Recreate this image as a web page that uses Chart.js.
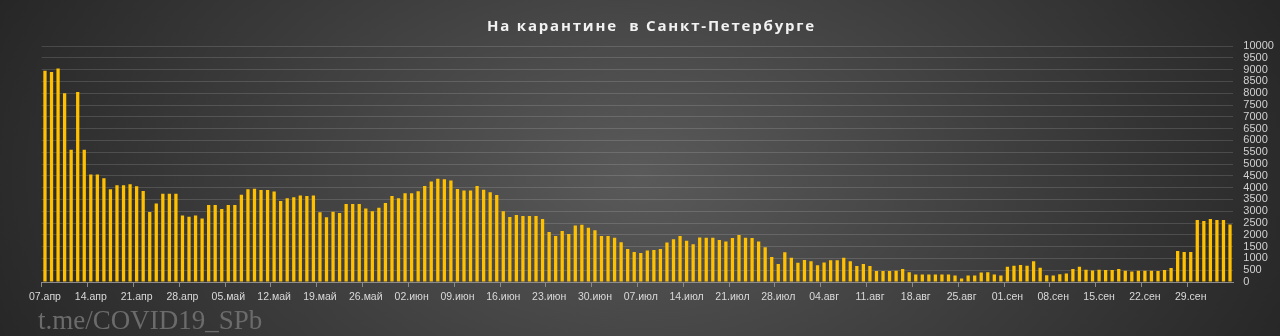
<!DOCTYPE html>
<html>
<head>
<meta charset="utf-8">
<script src="https://cdn.jsdelivr.net/npm/chart.js@4/dist/chart.umd.min.js"></script>
<style>
  html, body { margin: 0; padding: 0; background: #2a2a2a; }
  #wrap {
    position: relative; width: 1280px; height: 336px; overflow: hidden;
    background: radial-gradient(ellipse 55% 130% at 50% 52%, #5a5a5a 0%, #3d3d3d 55%, #262626 100%);
  }
  #title {
    position: absolute; left: 23px; right: 0; top: 15px; text-align: center; white-space: pre;
    font: bold 15px "Open Sans", sans-serif; letter-spacing: 1.8px; color: #f2f2f2;
  }
  #mark {
    position: absolute; left: 38px; top: 305px;
    font: 27px "Liberation Serif", serif; color: #6b6b6b;
  }
  canvas { position: absolute; left: 0; top: 0; }
</style>
</head>
<body>
<div id="wrap">
  <canvas id="quarantine_canvas" width="1280" height="336"></canvas>
  <div id="title">На карантине  в Санкт-Петербурге</div>
  <div id="mark">t.me/COVID19_SPb</div>
</div>
<script>
// weekly axis labels (every 7th day)
const tickLabels = ["07.апр","14.апр","21.апр","28.апр","05.май","12.май","19.май","26.май",
  "02.июн","09.июн","16.июн","23.июн","30.июн","07.июл","14.июл","21.июл","28.июл",
  "04.авг","11.авг","18.авг","25.авг","01.сен","08.сен","15.сен","22.сен","29.сен"];

const monthNames = ["янв","фев","мар","апр","май","июн","июл","авг","сен","окт","ноя","дек"];

// people in quarantine, daily from 07.апр to 05.окт
const quarantined = [
  8950, 8900, 9050, 8000, 5600, 8050, 5600,
  4550, 4550, 4400, 3930, 4100, 4100, 4140,
  4060, 3860, 2970, 3330, 3740, 3740, 3740,
  2815, 2770, 2815, 2690, 3260, 3260, 3090,
  3260, 3260, 3700, 3930, 3950, 3900, 3900,
  3830, 3430, 3550, 3590, 3670, 3640, 3670,
  2960, 2740, 2980, 2920, 3300, 3300, 3300,
  3110, 3000, 3150, 3350, 3640, 3550, 3760,
  3760, 3850, 4070, 4260, 4380, 4350, 4300,
  3940, 3880, 3880, 4070, 3910, 3800, 3690,
  3000, 2750, 2840, 2800, 2800, 2800, 2670,
  2120, 1950, 2160, 2030, 2390, 2430, 2300,
  2190, 1950, 1950, 1880, 1680, 1400, 1270,
  1230, 1330, 1360, 1400, 1670, 1810, 1950,
  1750, 1600, 1890, 1880, 1880, 1780, 1720,
  1860, 1990, 1880, 1860, 1720, 1470, 1060,
  760, 1260, 1030, 820, 930, 880, 710,
  830, 920, 920, 1030, 880, 680, 760,
  680, 470, 470, 470, 480, 550, 410,
  320, 320, 320, 320, 320, 320, 280,
  150, 280, 280, 400, 410, 320, 280,
  650, 690, 720, 690, 880, 600, 290,
  280, 330, 360, 550, 650, 520, 490,
  520, 510, 510, 550, 480, 440, 480,
  480, 480, 470, 510, 590, 1310, 1270,
  1270, 2630, 2580, 2670, 2630, 2630, 2440
];

// one category per day
const days = [];
for (let i = 0; i < quarantined.length; i++) {
  const d = new Date(2020, 3, 7 + i);
  days.push(String(d.getDate()).padStart(2, "0") + "." + monthNames[d.getMonth()]);
}

const context = document.getElementById("quarantine_canvas").getContext("2d");

const chart = new Chart(context, {
  type: "bar",
  data: {
    labels: days,
    datasets: [{
      label:           "На карантине",
      data:            quarantined,
      backgroundColor: "#FFC000",
      barPercentage:   0.5,
      categoryPercentage: 1.0
    }]
  },
  options: {
    responsive: false,
    animation: false,
    devicePixelRatio: 1,
    layout: { padding: { left: 41.7, right: 0, top: 46, bottom: 0 } },
    plugins: {
      legend:  { display: false },
      tooltip: { enabled: false }
    },
    scales: {
      x: {
        offset: true,
        afterFit: (s) => { s.height = 54; },
        grid: {
          offset: true,
          drawOnChartArea: false,
          tickLength: 5,
          tickColor: (ctx) => ctx.index % 7 === 0 ? "#8a8a8a" : "rgba(0,0,0,0)"
        },
        border: { color: "#8a8a8a" },
        ticks: {
          autoSkip: false,
          maxRotation: 0,
          padding: 4,
          color: "#d9d9d9",
          font: { family: "Liberation Sans", size: 10.5 },
          callback: (v, i) => i % 7 === 0 ? tickLabels[i / 7] : ""
        }
      },
      y: {
        position: "right",
        min: 0,
        max: 10000,
        afterFit: (s) => { s.width = 46.7; },
        grid: { color: "rgba(255,255,255,0.14)", drawTicks: false },
        border: { display: false },
        ticks: {
          stepSize: 500,
          autoSkip: false,
          padding: 10,
          color: "#d0d0d0",
          font: { family: "Liberation Sans", size: 11 },
          callback: (v) => String(v)
        }
      }
    }
  }
});
</script>
</body>
</html>
